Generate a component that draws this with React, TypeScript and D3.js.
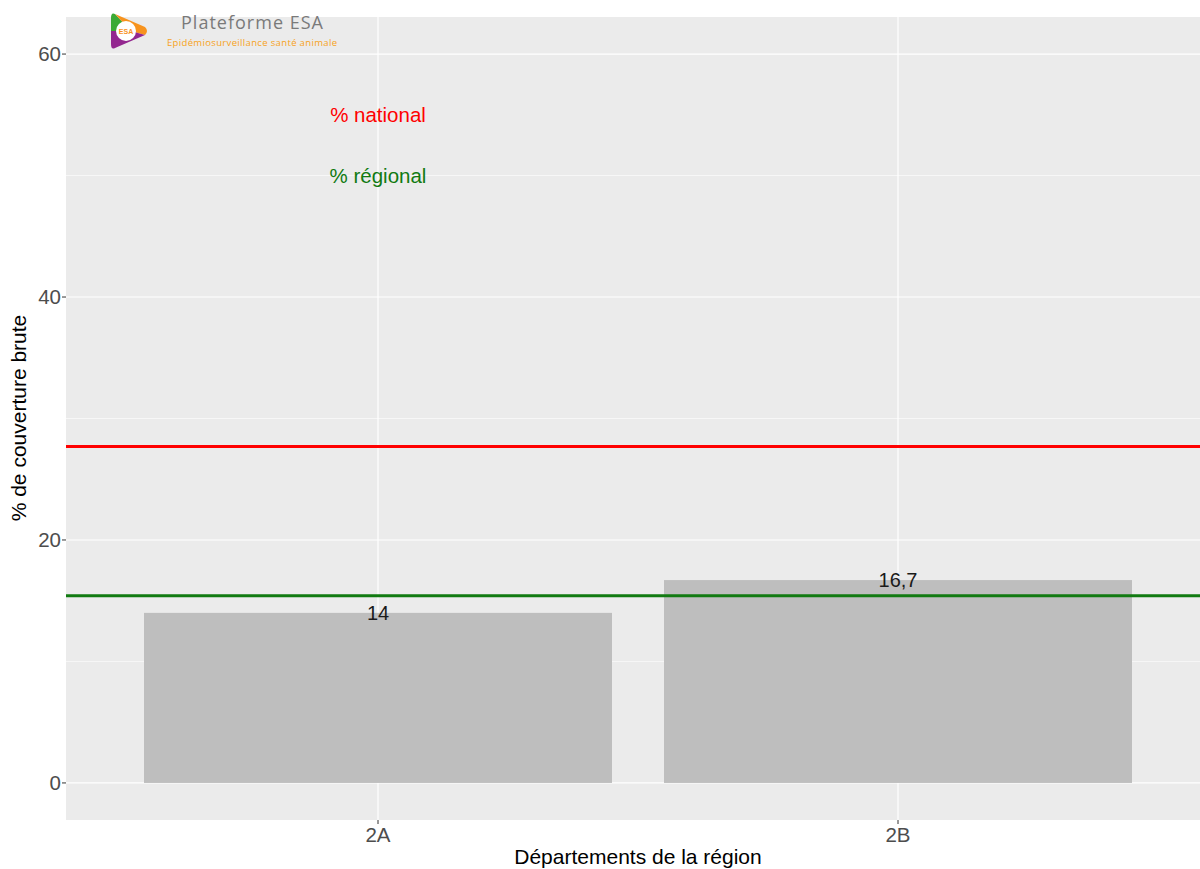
import React from "react";
import * as d3 from "d3";

const categories = ["2A", "2B"];
const values = [14, 16.7];
const valueLabels = ["14", "16,7"];
const nationalValue = 27.7;
const regionalValue = 15.4;
const yTicks = [0, 20, 40, 60];
const yMinorTicks = [10, 30, 50];
const legendTexts = [
  { text: "% national", y: 55, color: "#FF0000" },
  { text: "% régional", y: 50, color: "#117A11" },
];

const W = 1200;
const H = 869;
const panel = { left: 66, right: 1210, top: 17, bottom: 820 };

export default function App() {
  const y = d3.scaleLinear().domain([-3.05, 63.05]).range([panel.bottom, panel.top]);
  const xc = d3.scaleLinear().domain([0.4, 2.6]).range([panel.left, panel.right]);
  const barW = 0.9;
  const font = "'Liberation Sans', Arial, Helvetica, sans-serif";

  return (
    <svg width={W} height={H} style={{ display: "block", position: "absolute", left: 0, top: 0 }} fontFamily={font}>
      <rect x={0} y={0} width={W} height={H} fill="#ffffff" />
      <defs>
        <clipPath id="pc">
          <rect x={panel.left} y={panel.top} width={W - panel.left} height={panel.bottom - panel.top} />
        </clipPath>
      </defs>
      <g clipPath="url(#pc)">
        <rect x={panel.left} y={panel.top} width={panel.right - panel.left} height={panel.bottom - panel.top} fill="#EBEBEB" />
        {yMinorTicks.map((t) => (
          <line key={"m" + t} x1={panel.left} x2={panel.right} y1={y(t)} y2={y(t)} stroke="#ffffff" strokeWidth={0.6} />
        ))}
        {yTicks.map((t) => (
          <line key={"M" + t} x1={panel.left} x2={panel.right} y1={y(t)} y2={y(t)} stroke="#ffffff" strokeWidth={1.2} />
        ))}
        {categories.map((c, i) => (
          <line key={"v" + c} x1={xc(i + 1)} x2={xc(i + 1)} y1={panel.top} y2={panel.bottom} stroke="#ffffff" strokeWidth={1.2} />
        ))}
        {values.map((v, i) => (
          <rect
            key={"b" + i}
            x={xc(i + 1 - barW / 2)}
            y={y(v)}
            width={xc(i + 1 + barW / 2) - xc(i + 1 - barW / 2)}
            height={y(0) - y(v)}
            fill="#BEBEBE"
          />
        ))}
        <line x1={panel.left} x2={panel.right} y1={y(nationalValue)} y2={y(nationalValue)} stroke="#FF0000" strokeWidth={3} />
        <line x1={panel.left} x2={panel.right} y1={y(regionalValue)} y2={y(regionalValue)} stroke="#117A11" strokeWidth={3} />
        {values.map((v, i) => (
          <text key={"l" + i} x={xc(i + 1)} y={y(v)} dy="0.35em" textAnchor="middle" fontSize={20} fill="#1a1a1a">
            {valueLabels[i]}
          </text>
        ))}
        {legendTexts.map((l) => (
          <text key={l.text} x={xc(1)} y={y(l.y)} dy="0.35em" textAnchor="middle" fontSize={20.5} fill={l.color}>
            {l.text}
          </text>
        ))}
      </g>
      {/* y axis */}
      {yTicks.map((t) => (
        <g key={"yt" + t}>
          <line x1={panel.left - 4} x2={panel.left} y1={y(t)} y2={y(t)} stroke="#333333" strokeWidth={1} />
          <text x={panel.left - 5} y={y(t)} dy="0.35em" textAnchor="end" fontSize={20.5} fill="#4D4D4D">
            {t}
          </text>
        </g>
      ))}
      {categories.map((c, i) => (
        <g key={"xt" + c}>
          <line x1={xc(i + 1)} x2={xc(i + 1)} y1={panel.bottom} y2={panel.bottom + 4} stroke="#333333" strokeWidth={1} />
          <text x={xc(i + 1)} y={panel.bottom + 5} dy="0.85em" textAnchor="middle" fontSize={20.5} fill="#4D4D4D">
            {c}
          </text>
        </g>
      ))}
      <text x={638} y={864} textAnchor="middle" fontSize={21} fill="#000000">
        Départements de la région
      </text>
      <text transform={`translate(26, 418) rotate(-90)`} textAnchor="middle" fontSize={21} fill="#000000">
        % de couverture brute
      </text>
      {/* logo */}
      <g transform="translate(111, 12)">
        <path d="M4,2 Q0,0 0,6 L0,19 L20,19 Z" fill="#3BAA35" />
        <path d="M4,2 L34,15 Q38,19 34,23 L20,19 Z" fill="#F7931E" />
        <path d="M0,19 L20,19 L34,23 L4,36 Q0,38 0,32 Z" fill="#93278F" />
        <circle cx={15} cy={19} r={10} fill="#ffffff" />
        <text x={15} y={22} textAnchor="middle" fontSize={7} fontWeight="bold" fill="#F7931E">ESA</text>
      </g>
      <text x={181} y={29} fontSize={18} fill="#7a7a7a" fontFamily="'Open Sans', 'Liberation Sans', sans-serif" textLength={142}>
        Plateforme ESA
      </text>
      <text x={167} y={46} fontSize={9.5} fill="#F7A21B" fontFamily="'Open Sans', 'Liberation Sans', sans-serif" textLength={170}>
        Epidémiosurveillance santé animale
      </text>
    </svg>
  );
}
